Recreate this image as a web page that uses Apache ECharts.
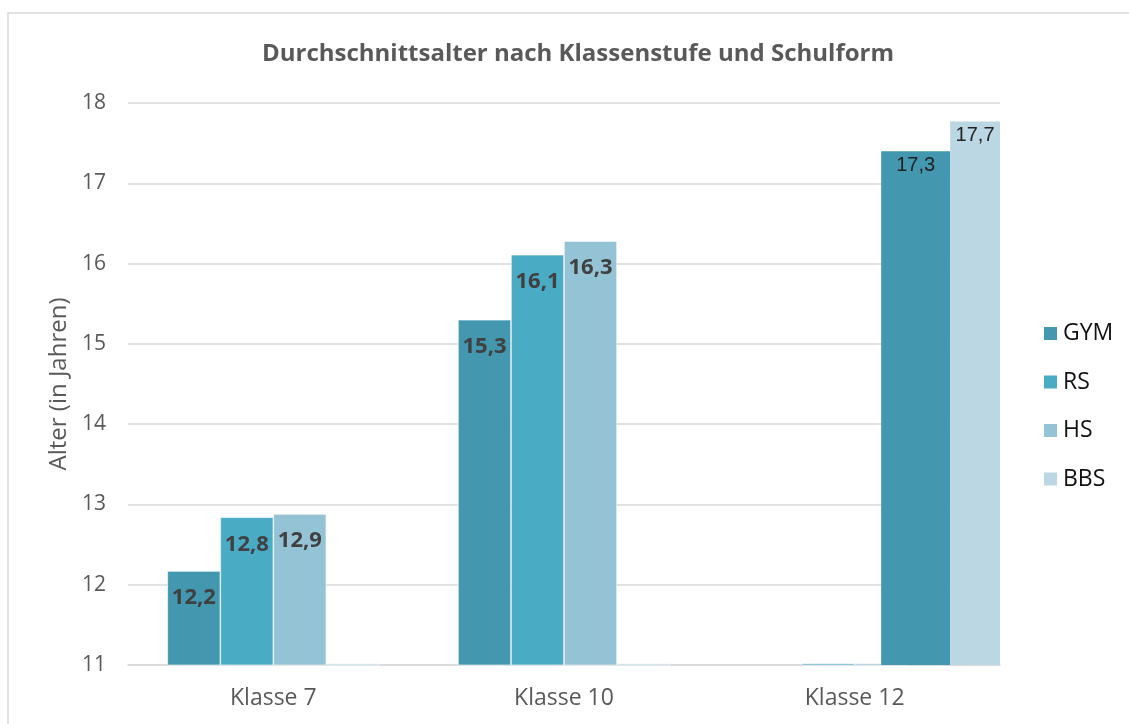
<!DOCTYPE html>
<html lang="de">
<head>
    <meta charset="UTF-8">
    <title>Durchschnittsalter nach Klassenstufe und Schulform</title>
    <style>
        html, body { margin: 0; padding: 0; background: #fff; }
        #container { width: 1129px; height: 724px; }
    </style>
</head>
<body>
    <div id="container"></div>
    <script src="https://cdn.jsdelivr.net/npm/echarts@6/dist/echarts.min.js"></script>
    <script>
        // Daten
        var categories = ['Klasse 7', 'Klasse 10', 'Klasse 12'];
        var gym = [12.17, 15.3, null];
        var rs = [12.84, 16.11, 11.02];
        var hs = [12.88, 16.28, 11.02];
        var bbs = [11.02, 11.02, null];
        // Klasse 12: die zwei Balken sind im Original anders gesetzt
        var gymK12 = [null, null, 17.4];
        var bbsK12 = [null, null, 17.77];
        var k12GymLabels = ['', '', '17,3'];
        var k12BbsLabels = ['', '', '17,7'];
        var yTicks = [11, 12, 13, 14, 15, 16, 17, 18];

        var colors = {
            GYM: '#4397ae',
            RS: '#4aabc5',
            HS: '#93c3d5',
            BBS: '#bbd7e3'
        };

        var font = '"Open Sans", "Noto Sans", sans-serif';

        function fmt(v) {
            return v.toFixed(1).replace('.', ',');
        }

        function mainSeries(name, data) {
            return {
                name: name,
                type: 'bar',
                data: data,
                barWidth: 53,
                barGap: '0%',
                itemStyle: { color: colors[name], borderColor: '#ffffff', borderWidth: 0.6 },
                label: {
                    show: true,
                    position: 'insideTop',
                    distance: 16,
                    fontFamily: font,
                    fontWeight: 'bold',
                    fontSize: 22,
                    color: '#404040',
                    formatter: function (p) {
                        return p.value > 11.5 ? fmt(p.value) : '';
                    }
                }
            };
        }

        function k12Series(name, data, labels, width) {
            return {
                name: name,
                type: 'bar',
                xAxisIndex: 1,
                data: data,
                barWidth: width,
                barGap: '0%',
                itemStyle: { color: colors[name] },
                label: {
                    show: true,
                    position: 'insideTop',
                    distance: 4,
                    fontFamily: '"Liberation Sans", Arial, sans-serif',
                    fontSize: 20,
                    color: '#222222',
                    formatter: function (p) {
                        return labels[p.dataIndex];
                    }
                }
            };
        }

        var myChart = echarts.init(document.getElementById('container'));

        var option = {
            animation: false,
            backgroundColor: '#ffffff',
            graphic: [{
                type: 'rect',
                shape: { x: 8, y: 13, width: 1140, height: 730 },
                style: { fill: 'none', stroke: '#d9d9d9', lineWidth: 1.5 },
                silent: true,
                z: -10
            }],
            title: {
                text: 'Durchschnittsalter nach Klassenstufe und Schulform',
                left: 573,
                textAlign: 'center',
                top: 37,
                textStyle: {
                    fontFamily: font,
                    fontWeight: 'bold',
                    fontSize: 24,
                    color: '#595959'
                }
            },
            legend: {
                data: ['GYM', 'RS', 'HS', 'BBS'],
                orient: 'vertical',
                left: 1037,
                top: 317,
                itemWidth: 15,
                itemHeight: 15,
                itemGap: 25.5,
                icon: 'rect',
                textStyle: {
                    fontFamily: font,
                    fontSize: 23,
                    color: '#111111'
                }
            },
            grid: {
                left: 128,
                right: 129,
                top: 103,
                bottom: 59,
                containLabel: false
            },
            xAxis: [{
                type: 'category',
                data: categories,
                axisTick: { show: false },
                axisLine: { lineStyle: { color: '#d9d9d9', width: 1.5 } },
                axisLabel: {
                    fontFamily: font,
                    fontSize: 23,
                    color: '#595959',
                    margin: 22
                }
            }, {
                type: 'category',
                data: categories,
                show: false
            }],
            yAxis: {
                type: 'value',
                min: yTicks[0],
                max: yTicks[yTicks.length - 1],
                interval: 1,
                name: 'Alter (in Jahren)',
                nameLocation: 'middle',
                nameGap: 54,
                nameTextStyle: {
                    fontFamily: font,
                    fontSize: 24,
                    color: '#595959'
                },
                axisLine: { show: false },
                axisTick: { show: false },
                axisLabel: {
                    fontFamily: font,
                    fontSize: 21,
                    color: '#595959',
                    margin: 22
                },
                splitLine: { lineStyle: { color: '#d9d9d9', width: 1.5 } }
            },
            series: [
                mainSeries('GYM', gym),
                mainSeries('RS', rs),
                mainSeries('HS', hs),
                mainSeries('BBS', bbs),
                {
                    name: 'pad',
                    type: 'bar',
                    xAxisIndex: 1,
                    data: [null, null, null],
                    barWidth: 184,
                    barGap: '0%'
                },
                k12Series('GYM', gymK12, k12GymLabels, 69),
                k12Series('BBS', bbsK12, k12BbsLabels, 62)
            ]
        };

        myChart.setOption(option);
    </script>
</body>
</html>
